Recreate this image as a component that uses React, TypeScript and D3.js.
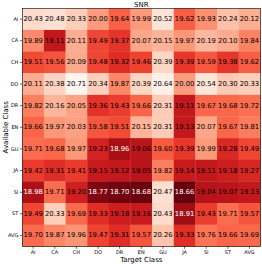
import { useEffect, useRef } from 'react';
import * as d3 from 'd3';

const classes = ['AI', 'CA', 'CH', 'DO', 'DR', 'EN', 'GU', 'JA', 'SI', 'ST', 'AVG'];
const rowLabels = classes;
const colLabels = classes;

// SNR values, rows = available class, cols = target class
const snrAI = [20.43, 20.48, 20.33, 20.0, 19.64, 19.99, 20.52, 19.62, 19.93, 20.24, 20.12];
const snrCA = [19.89, 19.11, 20.11, 19.49, 19.37, 20.07, 20.15, 19.97, 20.19, 20.1, 19.84];
const snrCH = [19.51, 19.56, 20.09, 19.48, 19.32, 19.46, 20.39, 19.39, 19.59, 19.38, 19.62];
const snrDO = [20.11, 20.38, 20.71, 20.34, 19.87, 20.39, 20.64, 20.0, 20.54, 20.3, 20.33];
const snrDR = [19.82, 20.16, 20.05, 19.36, 19.43, 19.66, 20.31, 19.11, 19.67, 19.68, 19.72];
const snrEN = [19.66, 19.97, 20.03, 19.58, 19.51, 20.15, 20.31, 19.13, 20.07, 19.67, 19.81];
const snrGU = [19.71, 19.68, 19.97, 19.23, 18.96, 19.06, 19.6, 19.39, 19.99, 19.28, 19.49];
const snrJA = [19.42, 19.31, 19.41, 19.15, 19.12, 19.05, 19.82, 19.14, 19.11, 19.18, 19.27];
const snrSI = [18.98, 19.71, 19.2, 18.77, 18.7, 18.68, 20.47, 18.66, 19.04, 19.07, 19.13];
const snrST = [19.49, 20.33, 19.69, 19.33, 19.18, 19.16, 20.43, 18.91, 19.43, 19.71, 19.57];
const snrAVG = [19.7, 19.87, 19.96, 19.47, 19.31, 19.57, 20.26, 19.33, 19.76, 19.66, 19.69];

const matrix = [snrAI, snrCA, snrCH, snrDO, snrDR, snrEN, snrGU, snrJA, snrSI, snrST, snrAVG];

const FONT = 'DejaVu Sans, sans-serif';

function Heatmap() {
  const svgRef = useRef<SVGSVGElement>(null);
  const width = 262;
  const height = 264;

  useEffect(() => {
    if (!svgRef.current) return;
    const svg = d3.select(svgRef.current);
    svg.selectAll('*').remove();

    const margin = { top: 8.3, left: 22.3, right: 2, bottom: 18 };
    const innerW = 238;
    const innerH = 238;

    const x = d3.scaleBand<string>().domain(colLabels).range([0, innerW]);
    const y = d3.scaleBand<string>().domain(rowLabels).range([0, innerH]);

    const all = matrix.flat();
    const vmin = d3.min(all) as number;
    const vmax = d3.max(all) as number;
    const color = d3.scaleSequential((t: number) => d3.interpolateReds(1 - t)).domain([vmin, vmax]);

    const g = svg.append('g').attr('transform', `translate(${margin.left},${margin.top})`);

    const cells = matrix.flatMap((row, i) => row.map((v, j) => ({ r: rowLabels[i], c: colLabels[j], v })));

    g.selectAll('rect.cell')
      .data(cells)
      .join('rect')
      .attr('class', 'cell')
      .attr('x', d => x(d.c) as number)
      .attr('y', d => y(d.r) as number)
      .attr('width', x.bandwidth() + 0.3)
      .attr('height', y.bandwidth() + 0.3)
      .attr('fill', d => color(d.v));

    g.selectAll('text.val')
      .data(cells)
      .join('text')
      .attr('class', 'val')
      .attr('x', d => (x(d.c) as number) + x.bandwidth() / 2)
      .attr('y', d => (y(d.r) as number) + y.bandwidth() / 2)
      .attr('text-anchor', 'middle')
      .attr('dominant-baseline', 'central')
      .attr('font-family', FONT)
      .attr('font-size', 6.8)
      .attr('fill', d => (d.v < 19.0 ? '#ffffff' : '#000000'))
      .text(d => d.v.toFixed(2));

    // frame
    g.append('rect')
      .attr('width', innerW)
      .attr('height', innerH)
      .attr('fill', 'none')
      .attr('stroke', '#000')
      .attr('stroke-width', 0.6);

    // x axis
    const xAxis = g.append('g')
      .attr('transform', `translate(0,${innerH})`)
      .call(d3.axisBottom(x).tickSize(2.5).tickPadding(1.5));
    xAxis.select('.domain').remove();
    xAxis.selectAll('text').attr('font-family', FONT).attr('font-size', 5).attr('fill', '#000');
    xAxis.selectAll('line').attr('stroke-width', 0.6);

    const yAxis = g.append('g').call(d3.axisLeft(y).tickSize(2.5).tickPadding(1.5));
    yAxis.select('.domain').remove();
    yAxis.selectAll('text').attr('font-family', FONT).attr('font-size', 5).attr('fill', '#000');
    yAxis.selectAll('line').attr('stroke-width', 0.6);

    svg.append('text')
      .attr('x', margin.left + innerW / 2)
      .attr('y', 6.5)
      .attr('text-anchor', 'middle')
      .attr('font-family', FONT)
      .attr('font-size', 7)
      .text('SNR');

    svg.append('text')
      .attr('x', margin.left + innerW / 2)
      .attr('y', 262)
      .attr('text-anchor', 'middle')
      .attr('font-family', FONT)
      .attr('font-size', 7)
      .text('Target Class');

    svg.append('text')
      .attr('transform', `translate(7.5,${margin.top + innerH / 2}) rotate(-90)`)
      .attr('text-anchor', 'middle')
      .attr('font-family', FONT)
      .attr('font-size', 7)
      .text('Available Class');
  }, []);

  return <svg ref={svgRef} width={width} height={height} style={{ display: 'block' }} />;
}

export default function App() {
  return (
    <div style={{ position: 'absolute', left: 0, top: 0, background: '#fff' }}>
      <Heatmap />
    </div>
  );
}
